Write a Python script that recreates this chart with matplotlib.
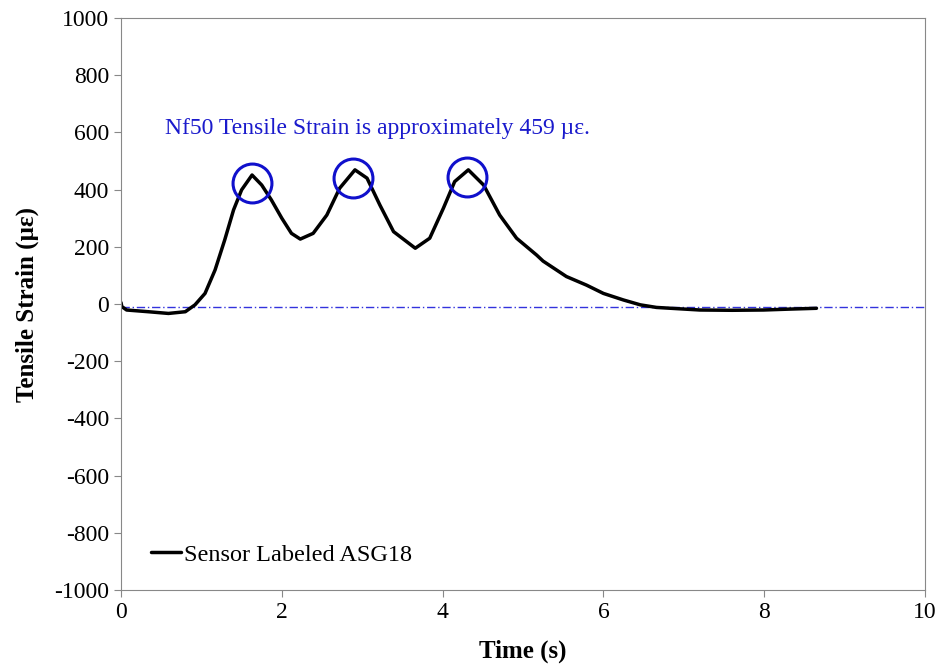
import matplotlib
matplotlib.use("Agg")
import matplotlib.pyplot as plt

time_s = [0.0, 0.01, 0.07, 0.34, 0.59, 0.80, 0.92, 1.045, 1.17, 1.29, 1.40, 1.50, 1.63, 1.75,
          1.87, 2.00, 2.12, 2.23, 2.39, 2.56, 2.72, 2.91, 3.06, 3.22, 3.39, 3.66, 3.84, 4.01,
          4.15, 4.32, 4.51, 4.71, 4.92, 5.17, 5.25, 5.54, 5.79, 6.00, 6.25, 6.46, 6.66,
          7.20, 7.60, 7.99, 8.30, 8.65]
strain = [5, -9, -21, -27, -33, -27, -3, 37, 119, 224, 329, 399, 451, 416,
          364, 300, 247, 227, 247, 311, 405, 469, 440, 346, 253, 195, 230, 335,
          428, 469, 416, 311, 230, 171, 150, 96, 66, 37, 14, -3, -12,
          -21, -22, -21, -18, -15]

peak_t = [1.63, 2.88, 4.30]
peak_marker_y = [423, 440, 444]
ref_level = -10
nf50 = 459

plt.rcParams['font.family'] = ['Liberation Serif', 'DejaVu Serif']
plt.rcParams['axes.unicode_minus'] = False
fig = plt.figure(figsize=(9.42, 6.67), dpi=100)
ax = fig.add_axes([121/942, 1-590/667, (925-121)/942, (590-18)/667])

ax.axhline(ref_level, color='#3333dd', lw=1.0, ls=(0, (6, 2, 1, 2)))
ax.plot(time_s, strain, color='black', lw=2.5, label='Sensor Labeled ASG18',
        solid_joinstyle='round', solid_capstyle='round')
ax.plot(peak_t, peak_marker_y, ls='none', marker='o', ms=28, mfc='none', mec='#1010cc', mew=2.2)

ax.text(0.55, 615, f'Nf50 Tensile Strain is approximately {nf50} \u00b5\u03b5.', color='#1a1acc',
        fontsize=17, va='center', ha='left')

ax.set_xlim(0, 10)
ax.set_ylim(-1000, 1000)
ax.set_xticks(range(0, 11, 2))
ax.set_yticks(range(-1000, 1001, 200))
ax.tick_params(direction='out', length=5, color='#888888', labelsize=17)
for s in ax.spines.values():
    s.set_color('#888888')
ax.set_xlabel('Time (s)', fontsize=18, fontweight='bold', labelpad=12)
ax.set_ylabel('Tensile Strain (\u00b5\u03b5)', fontsize=18, fontweight='bold', labelpad=11)

ax.legend(loc='lower left', frameon=False, fontsize=17.5, handlelength=1.25, handletextpad=0.1,
          borderaxespad=0, bbox_to_anchor=(0.025, 0.025))

fig.savefig('out.png', dpi=100)
